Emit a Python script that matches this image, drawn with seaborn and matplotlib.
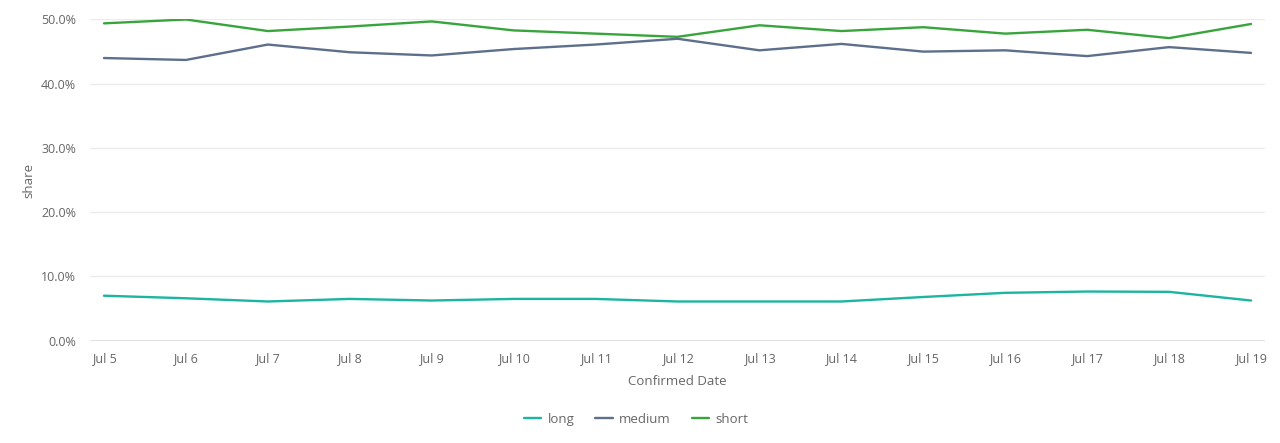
import matplotlib
matplotlib.use("Agg")
import matplotlib.pyplot as plt
import matplotlib.dates as mdates
from matplotlib.ticker import PercentFormatter
import pandas as pd
import seaborn as sns

dates = pd.date_range("2020-07-05", "2020-07-19", freq="D")
long_share = [7.0, 6.6, 6.1, 6.5, 6.25, 6.5, 6.5, 6.1, 6.1, 6.1, 6.8, 7.45, 7.65, 7.6, 6.25]
medium_share = [44.0, 43.7, 46.1, 44.9, 44.4, 45.4, 46.1, 47.0, 45.2, 46.2, 45.0, 45.2, 44.3, 45.7, 44.8]
short_share = [49.4, 50.0, 48.2, 48.9, 49.7, 48.3, 47.8, 47.3, 49.1, 48.2, 48.8, 47.8, 48.4, 47.1, 49.3]
groups = ["long", "medium", "short"]
colors = ["#1bb5a0", "#5d6f8b", "#38a53c"]

df = pd.DataFrame({
    "Confirmed Date": list(dates) * 3,
    "share": long_share + medium_share + short_share,
    "group": [g for g in groups for _ in dates],
})

sns.set_theme(style="white")
plt.rcParams["font.family"] = ["Open Sans", "DejaVu Sans"]
txt = "#666666"

fig = plt.figure(figsize=(12.8, 4.43), dpi=100)
ax = fig.add_axes([0.0703, 0.231, 0.918, 0.725])

sns.lineplot(data=df, x="Confirmed Date", y="share", hue="group",
             hue_order=groups, palette=colors, linewidth=1.7, ax=ax)

ax.set_ylim(0, 50)
ax.set_yticks([0, 10, 20, 30, 40, 50])
ax.yaxis.set_major_formatter(PercentFormatter(decimals=1))
pad = pd.Timedelta(hours=4.1)
ax.set_xlim(dates[0] - pad, dates[-1] + pad)
ax.xaxis.set_major_locator(mdates.DayLocator())
ax.xaxis.set_major_formatter(mdates.DateFormatter("%b %-d"))

ax.grid(axis="y", color="#ebebeb", linewidth=1)
ax.axhline(0, color="#dcdce6", linewidth=1.3, zorder=0)
for s in ax.spines.values():
    s.set_visible(False)
ax.tick_params(axis="both", length=0, labelsize=9, colors=txt)
ax.tick_params(axis="x", pad=8)
ax.tick_params(axis="y", pad=10)

ax.set_xlabel("Confirmed Date", fontsize=9.5, color=txt, labelpad=7)
ax.set_ylabel("share", fontsize=9.5, color=txt, labelpad=4)

ax.get_legend().remove()
handles, labels = ax.get_legend_handles_labels()
fig.legend(handles, labels, loc="center", bbox_to_anchor=(0.497, 0.054), ncol=3,
           frameon=False, fontsize=9.5, labelcolor=txt, handlelength=1.3,
           handletextpad=0.5, columnspacing=1.6)

fig.savefig("out.png", dpi=100)
